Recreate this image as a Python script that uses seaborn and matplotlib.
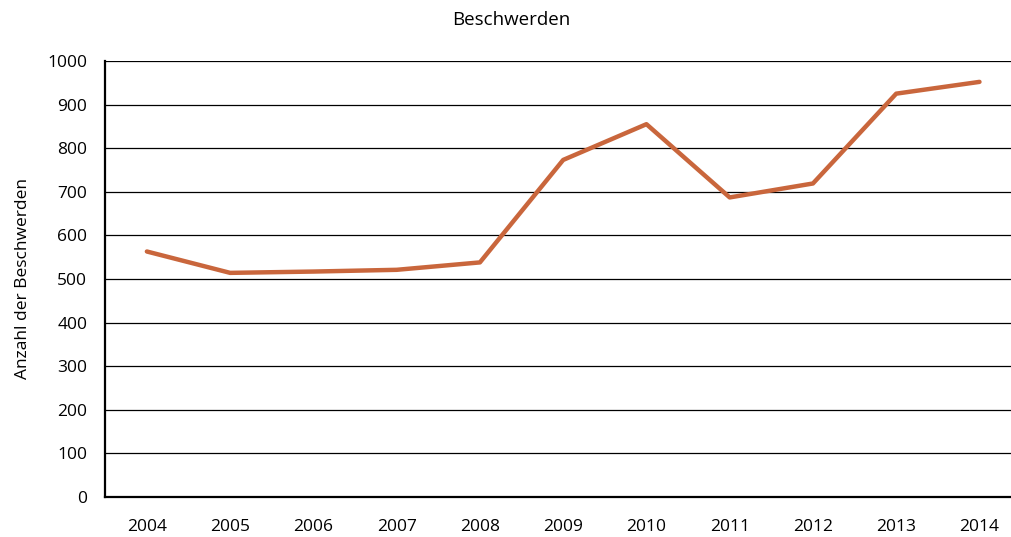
import matplotlib
matplotlib.use("Agg")
import matplotlib.pyplot as plt
import seaborn as sns
import pandas as pd

years = ["2004", "2005", "2006", "2007", "2008", "2009", "2010", "2011", "2012", "2013", "2014"]
complaints = [563, 514, 517, 521, 538, 773, 855, 687, 719, 925, 952]

df = pd.DataFrame({"year": years, "complaints": complaints})

sns.set_theme(style="white")
plt.rcParams["font.family"] = ["Open Sans", "DejaVu Sans"]

fig = plt.figure(figsize=(10.12, 5.37), dpi=100)
ax = fig.add_axes([0.104, 0.0745, 0.905, 0.812])

sns.lineplot(data=df, x="year", y="complaints", color="#C9663C", linewidth=3.2,
             sort=False, ax=ax)

ax.set_xlim(-0.5, 10.5)
ax.set_ylim(0, 1000)
ax.set_yticks(range(0, 1001, 100))
ax.yaxis.grid(True, color="black", linewidth=0.9)
ax.set_axisbelow(True)

for side in ["top", "right"]:
    ax.spines[side].set_visible(False)
for side in ["left", "bottom"]:
    ax.spines[side].set_color("black")
    ax.spines[side].set_linewidth(1.6)

ax.tick_params(axis="both", labelsize=12.5, length=0, colors="black")
ax.tick_params(axis="x", pad=16)
ax.tick_params(axis="y", pad=13)

fig.text(0.505, 0.962, "Beschwerden", fontsize=13.5, color="black",
         ha="center", va="center")
ax.set_xlabel("")
ax.set_ylabel("Anzahl der Beschwerden", fontsize=12.5, labelpad=12, color="black")

fig.savefig("out.png", dpi=100)
